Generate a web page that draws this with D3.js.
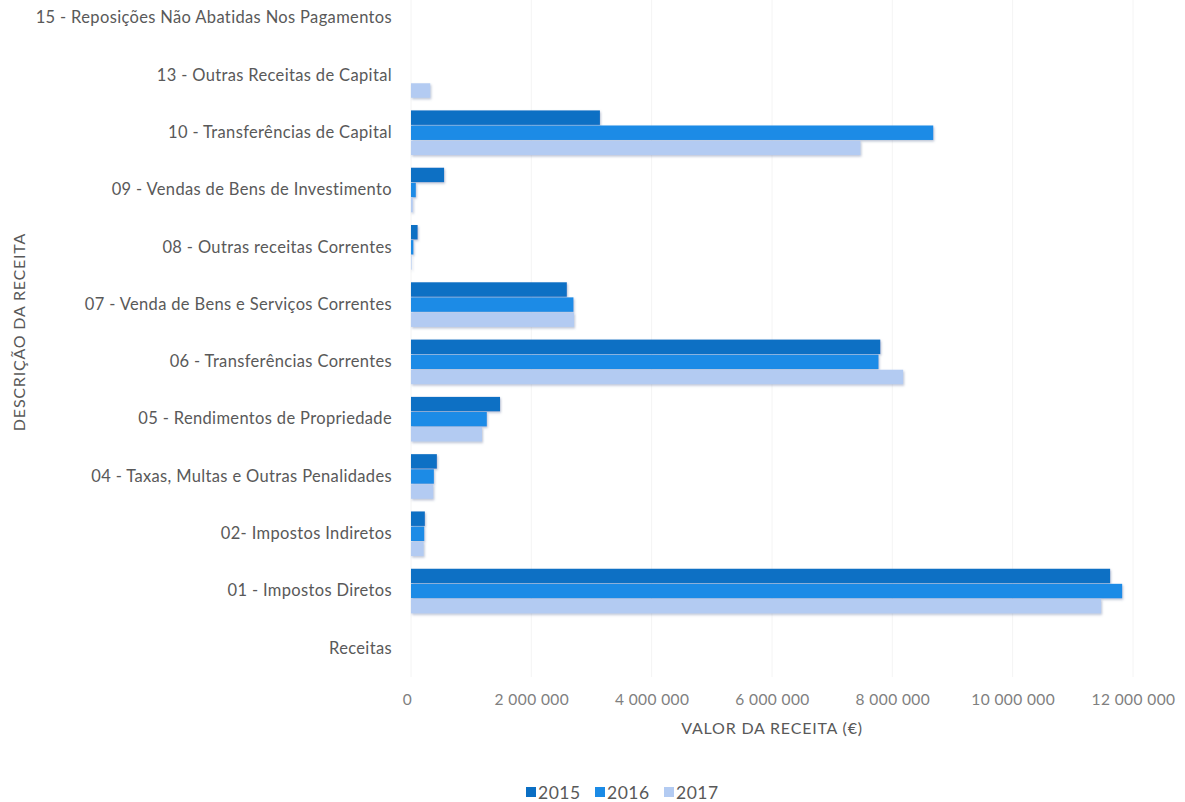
<!DOCTYPE html>
<html><head><meta charset="utf-8">
<script src="https://cdn.jsdelivr.net/npm/d3@7"></script>
<style>
body{margin:0;background:#fff;}
text{font-family:Lato,"Open Sans",sans-serif;}
</style></head>
<body><svg id="c" width="1185" height="802"></svg>
<script>
const categories = ["15 - Reposições Não Abatidas Nos Pagamentos","13 - Outras Receitas de Capital","10 - Transferências de Capital","09 - Vendas de Bens de Investimento","08 - Outras receitas Correntes","07 - Venda de Bens e Serviços Correntes","06 - Transferências Correntes","05 - Rendimentos de Propriedade","04 - Taxas, Multas e Outras Penalidades","02- Impostos Indiretos","01  - Impostos Diretos","Receitas"];
const years = ["2015","2016","2017"];
const values2015 = [0, 0, 3140000, 550000, 110000, 2590000, 7800000, 1480000, 430000, 230000, 11620000, 0];
const values2016 = [0, 0, 8680000, 80000, 40000, 2700000, 7770000, 1260000, 380000, 220000, 11820000, 0];
const values2017 = [0, 320000, 7470000, 30000, 10000, 2710000, 8180000, 1180000, 370000, 210000, 11470000, 0];
const xTicks = [0, 2000000, 4000000, 6000000, 8000000, 10000000, 12000000];
const colors = ["#0b6fc4", "#1b8be6", "#b3cbf2"];

const svg = d3.select("#c");
const defs = svg.append("defs");
const f = defs.append("filter").attr("id","sh").attr("x","-5%").attr("y","-30%").attr("width","110%").attr("height","180%");
f.append("feDropShadow").attr("dx",1).attr("dy",1.5).attr("stdDeviation",1).attr("flood-color","#6a7aa0").attr("flood-opacity",0.45);

const x = d3.scaleLinear().domain([0, 12000000]).range([411, 1133]);
const y = d3.scaleBand().domain(categories).range([-10.5, 677]).paddingInner(0.2).paddingOuter(0.1);
const y1 = d3.scaleBand().domain(years).range([0, y.bandwidth()]).padding(0.04);

// gridlines
svg.append("g").selectAll("line").data(xTicks).join("line")
  .attr("x1", d=>x(d)).attr("x2", d=>x(d)).attr("y1", 0).attr("y2", 677)
  .attr("stroke", "#f4f4f4").attr("stroke-width", 1);

const series = [values2015, values2016, values2017];
years.forEach((yr, i) => {
  svg.append("g").attr("filter","url(#sh)").selectAll("rect").data(categories.map((c,j)=>({c, v: series[i][j]})))
    .join("rect")
    .attr("x", x(0))
    .attr("y", d => y(d.c) + y1(yr))
    .attr("width", d => Math.max(0, x(d.v) - x(0)))
    .attr("height", y1.bandwidth())
    .attr("fill", colors[i]);
});

// y labels
const yAxis = d3.axisLeft(y).tickSize(0).tickPadding(0);
const gy = svg.append("g").attr("transform", "translate(392,0)").call(yAxis);
gy.select(".domain").remove();
gy.selectAll("text").attr("font-size", 16.5).attr("fill", "#595959").style("font-family","Lato").style("letter-spacing","0.35px");

// x axis
const xAxis = d3.axisBottom(x).tickValues(xTicks).tickSize(0).tickPadding(0)
  .tickFormat(d => d3.format(",")(d).replace(/,/g, " "));
const gx = svg.append("g").attr("transform", "translate(0,694)").call(xAxis);
gx.select(".domain").remove();
gx.selectAll("text").attr("font-size", 15.5).attr("fill", "#808080").style("font-family","Lato").style("letter-spacing","0.4px");
gx.selectAll(".tick").filter(d=>d===0).select("text").attr("dx", -4);

// axis titles
svg.append("text").attr("x", 772).attr("y", 734).attr("text-anchor","middle")
  .attr("font-size", 16).attr("fill", "#595959").style("letter-spacing","0.8px").text("VALOR DA RECEITA (€)");
svg.append("text").attr("transform","translate(25,332) rotate(-90)").attr("text-anchor","middle")
  .attr("font-size", 16).attr("fill", "#595959").style("letter-spacing","0.8px").text("DESCRIÇÃO DA RECEITA");

// legend
const lg = svg.append("g").attr("transform","translate(526,793)");
const lx = [0, 69, 138];
years.forEach((yr,i)=>{
  const g = lg.append("g").attr("transform",`translate(${lx[i]},0)`);
  g.append("rect").attr("x",0).attr("y",-6).attr("width",10).attr("height",10).attr("fill",colors[i]);
  g.append("text").attr("x",12).attr("y",0).attr("dy","0.35em").attr("font-size",17.5).attr("fill","#595959").style("letter-spacing","0.5px").text(yr);
});
</script></body></html>
